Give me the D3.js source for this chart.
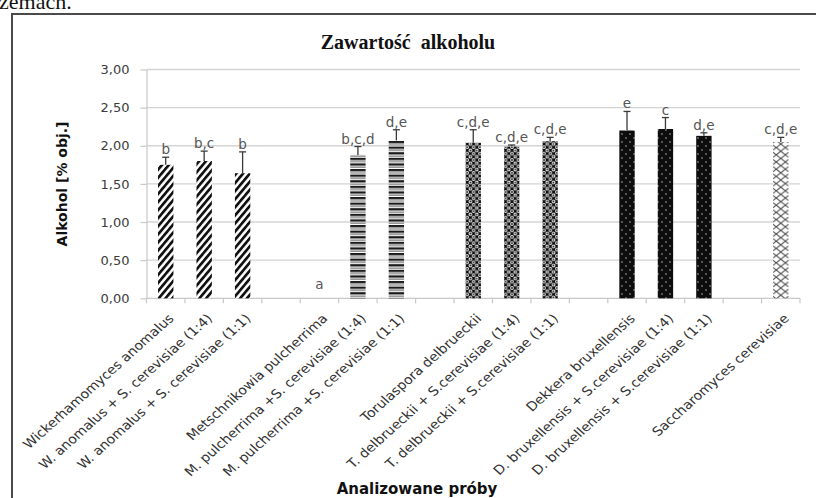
<!DOCTYPE html>
<html>
<head>
<meta charset="utf-8">
<script src="https://cdn.jsdelivr.net/npm/d3@7"></script>
<style>
  html, body { margin: 0; padding: 0; background: #fff; }
  svg { display: block; }
</style>
</head>
<body>
<svg id="chart" width="816" height="498"></svg>
<script>
// Samples (empty strings are spacer slots between yeast groups)
const categories = [
  "Wickerhamomyces anomalus",
  "W. anomalus + S. cerevisiae (1:4)",
  "W. anomalus + S. cerevisiae (1:1)",
  "",
  "Metschnikowia pulcherrima",
  "M. pulcherrima +S. cerevisiae (1:4)",
  "M. pulcherrima +S. cerevisiae (1:1)",
  "",
  "Torulaspora delbrueckii",
  "T. delbrueckii + S.cerevisiae (1:4)",
  "T. delbrueckii + S.cerevisiae (1:1)",
  "",
  "Dekkera bruxellensis",
  "D. bruxellensis + S.cerevisiae (1:4)",
  "D. bruxellensis + S.cerevisiae (1:1)",
  "",
  "Saccharomyces cerevisiae"
];
// Alcohol content [% vol.]
const alcohol = [1.75, 1.80, 1.64, null, 0.00, 1.88, 2.07, null, 2.04, 1.99, 2.06, null, 2.20, 2.22, 2.13, null, 2.05];
// Standard deviation (upper error bar)
const stdDev  = [0.10, 0.13, 0.28, null, 0.00, 0.11, 0.14, null, 0.17, 0.02, 0.05, null, 0.25, 0.15, 0.04, null, 0.06];
// Homogeneous groups
const groups  = ["b", "b,c", "b", null, "a", "b,c,d", "d,e", null, "c,d,e", "c,d,e", "c,d,e", null, "e", "c", "d,e", null, "c,d,e"];
// Fill pattern per yeast genus
const fills   = ["hatch", "hatch", "hatch", null, "hlines", "hlines", "hlines", null, "checks", "checks", "checks", null, "dots", "dots", "dots", null, "diamonds"];
const yTicks  = [0, 0.5, 1, 1.5, 2, 2.5, 3];

const svg = d3.select("#chart");
const plotL = 146.5, plotR = 800, plotT = 69.5, plotB = 298.3;

const ids = categories.map((c, i) => i);
const x = d3.scaleBand().domain(ids).range([plotL, plotR]).paddingInner(0.6).paddingOuter(0.3);
const y = d3.scaleLinear().domain([0, 3]).range([plotB, plotT]);
const step = x.step();
const bw = x.bandwidth();

// Stray text of the surrounding document
svg.append("text").attr("x", -1).attr("y", 9)
  .attr("font-family", "Liberation Serif, Times New Roman, serif")
  .attr("font-size", 22).attr("fill", "#111").text("zemach.");

// Chart frame
svg.append("path").attr("d", "M12,498 V14 H816")
  .attr("fill", "none").attr("stroke", "#4a4a4a").attr("stroke-width", 2);

// Patterns
const defs = svg.append("defs");
const hatch = defs.append("pattern").attr("id", "hatch").attr("patternUnits", "userSpaceOnUse")
  .attr("width", 5.2).attr("height", 5.2).attr("patternTransform", "rotate(40)");
hatch.append("rect").attr("width", 5.2).attr("height", 5.2).attr("fill", "#fff");
hatch.append("rect").attr("width", 2.7).attr("height", 5.2).attr("fill", "#111");

const hl = defs.append("pattern").attr("id", "hlines").attr("patternUnits", "userSpaceOnUse")
  .attr("width", 8).attr("height", 5.6).attr("y", 1);
hl.append("rect").attr("width", 8).attr("height", 5.6).attr("fill", "#fff");
hl.append("rect").attr("width", 8).attr("height", 2.3).attr("fill", "#1a1a1a");
hl.append("rect").attr("y", 3.3).attr("width", 8).attr("height", 1.2).attr("fill", "#7a7a7a");

const ck = defs.append("pattern").attr("id", "checks").attr("patternUnits", "userSpaceOnUse")
  .attr("width", 6.4).attr("height", 6.4);
ck.append("rect").attr("width", 6.4).attr("height", 6.4).attr("fill", "#0a0a0a");
[[0, 0], [6.4, 0], [0, 6.4], [6.4, 6.4], [3.2, 3.2]].forEach(([cx, cy]) => {
  ck.append("circle").attr("cx", cx).attr("cy", cy).attr("r", 1.8).attr("fill", "#fff");
  ck.append("circle").attr("cx", cx).attr("cy", cy).attr("r", 0.9).attr("fill", "#1a1a1a");
});

const dt = defs.append("pattern").attr("id", "dots").attr("patternUnits", "userSpaceOnUse")
  .attr("width", 8).attr("height", 8);
dt.append("rect").attr("width", 8).attr("height", 8).attr("fill", "#0d0d0d");
dt.append("circle").attr("cx", 2).attr("cy", 2).attr("r", 0.9).attr("fill", "#777");
dt.append("circle").attr("cx", 6).attr("cy", 6).attr("r", 0.9).attr("fill", "#777");

// Gridlines
svg.append("g").selectAll("line").data(yTicks.filter(t => t > 0)).join("line")
  .attr("x1", plotL).attr("x2", plotR)
  .attr("y1", d => y(d)).attr("y2", d => y(d))
  .attr("stroke", "#d4d4d4").attr("stroke-width", 1.4);

// Y axis
const yAxis = svg.append("g").attr("transform", `translate(${plotL},0)`)
  .call(d3.axisLeft(y).tickValues(yTicks).tickSize(6).tickSizeOuter(0)
    .tickFormat(d => d3.format(".2f")(d).replace(".", ",")));
yAxis.select(".domain").attr("stroke", "#c8c8c8").attr("stroke-width", 1.2);
yAxis.selectAll(".tick line").attr("stroke", "#c8c8c8").attr("stroke-width", 1.2);
yAxis.selectAll(".tick text").attr("x", -17).attr("fill", "#3c3c3c")
  .attr("font-family", "DejaVu Sans, sans-serif").attr("font-size", 13);

// X axis line with ticks between slots
svg.append("line").attr("x1", plotL).attr("x2", plotR).attr("y1", plotB).attr("y2", plotB)
  .attr("stroke", "#c8c8c8").attr("stroke-width", 1.3);
svg.append("g").selectAll("line").data(d3.range(categories.length + 1)).join("line")
  .attr("x1", i => plotL + i * step).attr("x2", i => plotL + i * step)
  .attr("y1", plotB).attr("y2", plotB + 5)
  .attr("stroke", "#c8c8c8").attr("stroke-width", 1.2);

// Bars
const rows = ids.filter(i => alcohol[i] !== null && alcohol[i] > 0);
svg.append("g").selectAll("rect").data(rows).join("rect")
  .attr("x", i => x(i)).attr("width", bw)
  .attr("y", i => y(alcohol[i])).attr("height", i => plotB - y(alcohol[i]))
  .attr("fill", i => {
    if (fills[i] !== "diamonds") return `url(#${fills[i]})`;
    // Diamond chain aligned to its own bar
    const p = defs.append("pattern").attr("id", "diamonds" + i).attr("patternUnits", "userSpaceOnUse")
      .attr("x", x(i)).attr("y", 0).attr("width", bw).attr("height", 7.2);
    p.append("rect").attr("width", bw).attr("height", 7.2).attr("fill", "#fff");
    const c = bw / 2;
    p.append("path")
      .attr("d", `M${c - 4.6},3.6 L${c},0 L${c + 4.6},3.6 L${c},7.2 Z M${c - 4.6},3.6 L${c - 7.7},1.2 M${c - 4.6},3.6 L${c - 7.7},6 M${c + 4.6},3.6 L${c + 7.7},1.2 M${c + 4.6},3.6 L${c + 7.7},6`)
      .attr("fill", "none").attr("stroke", "#555").attr("stroke-width", 1.1);
    return `url(#diamonds${i})`;
  });

// Upper error bars
const errs = ids.filter(i => alcohol[i] !== null && stdDev[i] > 0);
const eg = svg.append("g").attr("stroke", "#3a3a3a").attr("stroke-width", 1.3);
eg.selectAll("line.v").data(errs).join("line").attr("class", "v")
  .attr("x1", i => x(i) + bw / 2).attr("x2", i => x(i) + bw / 2)
  .attr("y1", i => y(alcohol[i])).attr("y2", i => y(alcohol[i] + stdDev[i]));
eg.selectAll("line.c").data(errs).join("line").attr("class", "c")
  .attr("x1", i => x(i) + bw / 2 - 3.5).attr("x2", i => x(i) + bw / 2 + 3.5)
  .attr("y1", i => y(alcohol[i] + stdDev[i])).attr("y2", i => y(alcohol[i] + stdDev[i]));

// Group letters
svg.append("g").selectAll("text").data(ids.filter(i => groups[i])).join("text")
  .attr("x", i => x(i) + bw / 2)
  .attr("y", i => Math.min(y(alcohol[i] + stdDev[i]) - 3, plotB - 9))
  .attr("text-anchor", "middle").attr("fill", "#555")
  .attr("font-family", "DejaVu Sans, sans-serif").attr("font-size", 13.5)
  .text(i => groups[i]);

// Category labels (45° text on a horizontally widened layout)
svg.append("g").selectAll("text").data(ids.filter(i => categories[i])).join("text")
  .attr("transform", i => `translate(${x(i) + bw / 2 + 9},${plotB + 21}) scale(1.12,1) rotate(-45)`)
  .attr("text-anchor", "end").attr("fill", "#333")
  .attr("font-family", "DejaVu Sans, sans-serif").attr("font-size", 12.6)
  .text(i => categories[i]);

// Titles
svg.append("text").attr("x", 408).attr("y", 49).attr("text-anchor", "middle")
  .attr("font-family", "Liberation Serif, Times New Roman, serif").attr("font-weight", "bold")
  .attr("font-size", 20).attr("fill", "#111").attr("xml:space", "preserve")
  .text("Zawartość  alkoholu");
svg.append("text").attr("transform", "translate(67,184) rotate(-90)").attr("text-anchor", "middle")
  .attr("font-family", "DejaVu Sans, sans-serif").attr("font-weight", "bold")
  .attr("font-size", 14).attr("fill", "#111").text("Alkohol [% obj.]");
svg.append("text").attr("x", 417).attr("y", 494).attr("text-anchor", "middle")
  .attr("font-family", "DejaVu Sans, sans-serif").attr("font-weight", "bold")
  .attr("font-size", 15).attr("fill", "#111").text("Analizowane próby");
</script>
</body>
</html>
